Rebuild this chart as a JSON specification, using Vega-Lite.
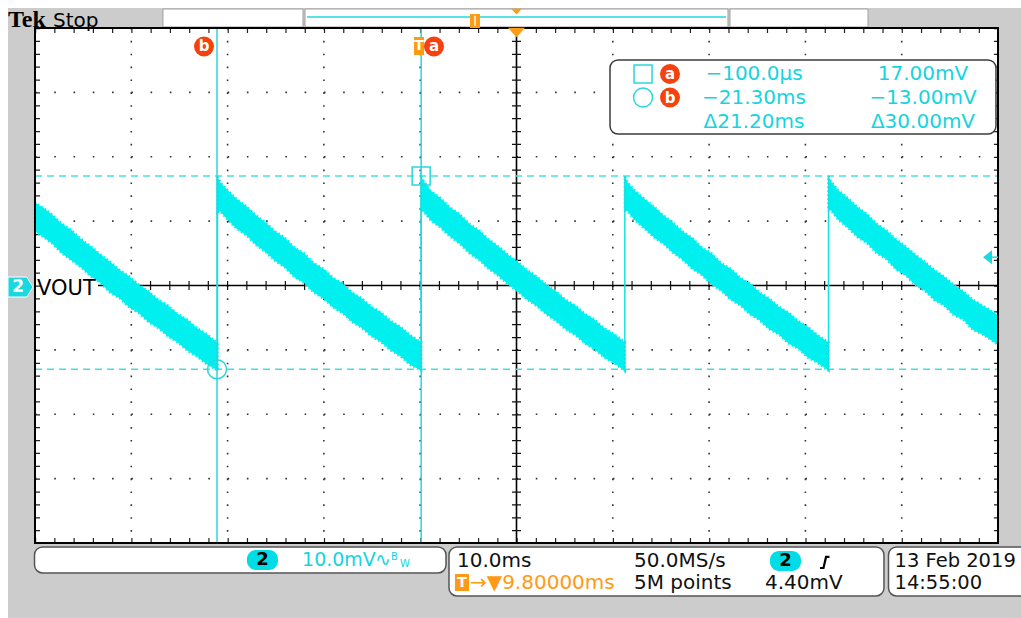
{
"$schema":"https://vega.github.io/schema/vega-lite/v6.json",
"width":1021,"height":618,
"autosize":{"type":"fit","contains":"padding"},
"padding":0,
"background":"#ffffff",
"config":{"view":{"stroke":null},"axis":{"disable":true},"text":{"font":"DejaVu Sans"}},
"datasets":{
"bg":[{"t":-43.004,"t2":62.188,"v":43.107,"v2":-51.6505}],
"topboxes":[{"t":-26.91,"t2":-12.37,"v":42.95,"v2":40.16},{"t":-12.16,"t2":31.76,"v":42.95,"v2":40.16},{"t":31.97,"t2":46.30,"v":42.95,"v2":40.16}],
"recline":[{"t":-11.96,"t2":31.55,"v":41.71}],
"plot":[{"t":-40.2,"t2":59.8,"v":40,"v2":-40}],
"vgrid":[{"t":-30.2,"v":40,"v2":-40},{"t":-20.2,"v":40,"v2":-40},{"t":-10.2,"v":40,"v2":-40},{"t":-0.2,"v":40,"v2":-40},{"t":19.8,"v":40,"v2":-40},{"t":29.8,"v":40,"v2":-40},{"t":39.8,"v":40,"v2":-40},{"t":49.8,"v":40,"v2":-40}],
"hgrid":[{"t":-40.2,"t2":59.8,"v":-30},{"t":-40.2,"t2":59.8,"v":-20},{"t":-40.2,"t2":59.8,"v":-10},{"t":-40.2,"t2":59.8,"v":10},{"t":-40.2,"t2":59.8,"v":20},{"t":-40.2,"t2":59.8,"v":30}],
"tbticks":[{"t":-40.2,"t2":59.8,"v":39.61},{"t":-40.2,"t2":59.8,"v":-39.61}],
"lrticks":[{"t":-39.94,"v":40,"v2":-40},{"t":59.64,"v":40,"v2":-40}],
"cv":[{"t":9.8,"v":40,"v2":-40}],
"ch":[{"t":-33.66,"t2":59.8,"v":0}],
"cursorH":[{"t":-40.2,"t2":59.8,"v":17},{"t":-40.2,"t2":59.8,"v":-13}],
"cursorV":[{"t":-21.3,"v":40,"v2":-40},{"t":-0.1,"v":40,"v2":-40}],
"wave":[
{"seg":1,"t":-40.2,"lo":8.4,"hi":12.9},{"seg":1,"t":-39.4,"lo":7.6,"hi":12.1},{"seg":1,"t":-38.4,"lo":6.5,"hi":11.0},{"seg":1,"t":-37.4,"lo":5.0,"hi":9.6},{"seg":1,"t":-36.4,"lo":3.9,"hi":8.6},{"seg":1,"t":-35.4,"lo":2.8,"hi":7.2},{"seg":1,"t":-34.4,"lo":1.4,"hi":6.1},{"seg":1,"t":-33.4,"lo":0.4,"hi":4.8},{"seg":1,"t":-32.4,"lo":-1.1,"hi":3.7},{"seg":1,"t":-31.4,"lo":-2.0,"hi":2.4},{"seg":1,"t":-30.4,"lo":-3.4,"hi":1.4},{"seg":1,"t":-29.4,"lo":-4.3,"hi":0.1},{"seg":1,"t":-28.4,"lo":-5.7,"hi":-0.9},{"seg":1,"t":-27.4,"lo":-6.6,"hi":-2.2},{"seg":1,"t":-26.4,"lo":-7.9,"hi":-3.1},{"seg":1,"t":-25.4,"lo":-8.8,"hi":-4.4},{"seg":1,"t":-24.4,"lo":-10.1,"hi":-5.3},{"seg":1,"t":-23.4,"lo":-11.0,"hi":-6.6},{"seg":1,"t":-22.4,"lo":-12.2,"hi":-7.5},{"seg":1,"t":-21.25,"lo":-13.2,"hi":-8.9},
{"seg":2,"t":-21.25,"lo":11.4,"hi":16.9},{"seg":2,"t":-20.95,"lo":11.5,"hi":16.0},{"seg":2,"t":-20.25,"lo":10.3,"hi":14.9},{"seg":2,"t":-19.25,"lo":8.8,"hi":13.4},{"seg":2,"t":-18.25,"lo":7.8,"hi":12.3},{"seg":2,"t":-17.25,"lo":6.3,"hi":10.9},{"seg":2,"t":-16.25,"lo":5.2,"hi":9.8},{"seg":2,"t":-15.25,"lo":3.8,"hi":8.4},{"seg":2,"t":-14.25,"lo":2.8,"hi":7.4},{"seg":2,"t":-13.25,"lo":1.3,"hi":5.9},{"seg":2,"t":-12.25,"lo":0.4,"hi":5.0},{"seg":2,"t":-11.25,"lo":-1.1,"hi":3.5},{"seg":2,"t":-10.25,"lo":-2.0,"hi":2.6},{"seg":2,"t":-9.25,"lo":-3.4,"hi":1.2},{"seg":2,"t":-8.25,"lo":-4.3,"hi":0.3},{"seg":2,"t":-7.25,"lo":-5.7,"hi":-1.1},{"seg":2,"t":-6.25,"lo":-6.6,"hi":-2.0},{"seg":2,"t":-5.25,"lo":-7.9,"hi":-3.3},{"seg":2,"t":-4.25,"lo":-8.8,"hi":-4.2},{"seg":2,"t":-3.25,"lo":-10.1,"hi":-5.5},{"seg":2,"t":-2.25,"lo":-11.0,"hi":-6.4},{"seg":2,"t":-1.25,"lo":-12.3,"hi":-7.7},{"seg":2,"t":-0.1,"lo":-13.2,"hi":-8.8},
{"seg":3,"t":-0.1,"lo":11.6,"hi":16.9},{"seg":3,"t":0.2,"lo":11.4,"hi":16.1},{"seg":3,"t":0.9,"lo":10.1,"hi":14.7},{"seg":3,"t":1.9,"lo":9.0,"hi":13.6},{"seg":3,"t":2.9,"lo":7.6,"hi":12.1},{"seg":3,"t":3.9,"lo":6.5,"hi":11.1},{"seg":3,"t":4.9,"lo":5.0,"hi":9.6},{"seg":3,"t":5.9,"lo":4.0,"hi":8.6},{"seg":3,"t":6.9,"lo":2.6,"hi":7.2},{"seg":3,"t":7.9,"lo":1.5,"hi":6.1},{"seg":3,"t":8.9,"lo":0.2,"hi":4.8},{"seg":3,"t":9.9,"lo":-0.9,"hi":3.7},{"seg":3,"t":10.9,"lo":-2.2,"hi":2.4},{"seg":3,"t":11.9,"lo":-3.2,"hi":1.4},{"seg":3,"t":12.9,"lo":-4.5,"hi":0.1},{"seg":3,"t":13.9,"lo":-5.5,"hi":-0.9},{"seg":3,"t":14.9,"lo":-6.8,"hi":-2.2},{"seg":3,"t":15.9,"lo":-7.7,"hi":-3.1},{"seg":3,"t":16.9,"lo":-9.0,"hi":-4.4},{"seg":3,"t":17.9,"lo":-9.9,"hi":-5.3},{"seg":3,"t":18.9,"lo":-11.2,"hi":-6.6},{"seg":3,"t":19.9,"lo":-12.0,"hi":-7.5},{"seg":3,"t":21.05,"lo":-13.3,"hi":-8.8},
{"seg":4,"t":21.05,"lo":11.7,"hi":17.0},{"seg":4,"t":21.35,"lo":11.5,"hi":16.0},{"seg":4,"t":22.05,"lo":10.2,"hi":14.8},{"seg":4,"t":23.05,"lo":8.9,"hi":13.5},{"seg":4,"t":24.05,"lo":7.5,"hi":12.3},{"seg":4,"t":25.05,"lo":6.5,"hi":10.9},{"seg":4,"t":26.05,"lo":5.1,"hi":9.8},{"seg":4,"t":27.05,"lo":4.0,"hi":8.4},{"seg":4,"t":28.05,"lo":2.6,"hi":7.4},{"seg":4,"t":29.05,"lo":1.6,"hi":5.9},{"seg":4,"t":30.05,"lo":0.2,"hi":5.0},{"seg":4,"t":31.05,"lo":-0.8,"hi":3.5},{"seg":4,"t":32.05,"lo":-2.2,"hi":2.6},{"seg":4,"t":33.05,"lo":-3.1,"hi":1.2},{"seg":4,"t":34.05,"lo":-4.5,"hi":0.3},{"seg":4,"t":35.05,"lo":-5.4,"hi":-1.1},{"seg":4,"t":36.05,"lo":-6.8,"hi":-2.0},{"seg":4,"t":37.05,"lo":-7.6,"hi":-3.3},{"seg":4,"t":38.05,"lo":-9.0,"hi":-4.2},{"seg":4,"t":39.05,"lo":-9.8,"hi":-5.5},{"seg":4,"t":40.05,"lo":-11.2,"hi":-6.4},{"seg":4,"t":41.05,"lo":-12.0,"hi":-7.7},{"seg":4,"t":42.2,"lo":-13.2,"hi":-8.8},
{"seg":5,"t":42.2,"lo":11.8,"hi":17.0},{"seg":5,"t":42.5,"lo":11.6,"hi":16.1},{"seg":5,"t":43.2,"lo":10.2,"hi":14.8},{"seg":5,"t":44.2,"lo":9.0,"hi":13.6},{"seg":5,"t":45.2,"lo":7.5,"hi":12.2},{"seg":5,"t":46.2,"lo":6.6,"hi":11.1},{"seg":5,"t":47.2,"lo":5.0,"hi":9.6},{"seg":5,"t":48.2,"lo":4.1,"hi":8.6},{"seg":5,"t":49.2,"lo":2.5,"hi":7.2},{"seg":5,"t":50.2,"lo":1.6,"hi":6.1},{"seg":5,"t":51.2,"lo":0.1,"hi":4.8},{"seg":5,"t":52.2,"lo":-0.8,"hi":3.7},{"seg":5,"t":53.2,"lo":-2.3,"hi":2.4},{"seg":5,"t":54.2,"lo":-3.1,"hi":1.4},{"seg":5,"t":55.2,"lo":-4.6,"hi":0.1},{"seg":5,"t":56.2,"lo":-5.3,"hi":-0.9},{"seg":5,"t":57.2,"lo":-6.9,"hi":-2.2},{"seg":5,"t":58.2,"lo":-7.6,"hi":-3.1},{"seg":5,"t":59.8,"lo":-9.2,"hi":-4.6}
],
"jumps":[{"t":-21.25,"v":-13.2,"v2":16.9},{"t":-0.1,"v":-13.2,"v2":16.9},{"t":21.05,"v":-13.3,"v2":17.0},{"t":42.2,"v":-13.2,"v2":17.0}],
"readbox":[{"t":19.51,"t2":59.59,"v":35.03,"v2":23.53}],
"trigtop":[{"t":9.8,"v":39.30}],
"trigbar":[{"t":9.8,"v":42.56}],
"sq":[{"t":-0.1,"v":17},{"t":22.94,"v":32.85}],
"ci":[{"t":-21.3,"v":-13},{"t":22.94,"v":29.2}],
"bottomboxes":[{"t":-40.25,"t2":2.48,"v":-40.62,"v2":-44.66},{"t":2.79,"t2":47.96,"v":-40.62,"v2":-48.23}],
"box3":[{"t":48.43,"t2":64.0,"v":-40.62,"v2":-48.23}],
"badges":[{"t":-18.19,"t2":-14.97,"v":-41.09,"v2":-44.19},{"t":36.12,"t2":39.34,"v":-41.24,"v2":-44.35}],
"badgetext":[{"t":-16.58,"v":-42.64,"label":"2"},{"t":37.73,"v":-42.8,"label":"2"}],
"orect":[{"t":4.97,"t2":6.01,"v":42.175,"v2":40.0},{"t":-0.844,"t2":0.194,"v":38.6,"v2":35.81},{"t":3.41,"t2":4.87,"v":-44.82,"v2":-47.46}],
"oline":[{"t":5.49,"v":41.9,"v2":40.3}],
"redc":[{"t":-22.65,"v":37.13,"label":"b"},{"t":1.23,"v":37.13,"label":"a"},{"t":25.74,"v":32.85,"label":"a"},{"t":25.74,"v":29.2,"label":"b"}],
"tlet":[{"t":-0.325,"v":37.2,"label":"T"},{"t":4.14,"v":-46.14,"label":"T"}],
"ch2":[{"t":-41.706,"v":-0.234}],
"ch2text":[{"t":-41.95,"v":-0.234,"label":"2"}],
"vout":[{"t":-39.99,"v":-1.5,"label":"VOUT"}],
"tek":[{"t":-43.0,"v":40.23,"label":"Tek"}],
"stop":[{"t":-38.33,"v":40.23,"label":"Stop"}],
"trlevel":[{"t":58.71,"v":4.4}],
"trline":[{"t":59.18,"t2":59.8,"v":4.4}],
"readtext":[{"t":34.46,"v":32.85,"label":"−100.0µs"},{"t":34.46,"v":29.13,"label":"−21.30ms"},{"t":34.46,"v":25.4,"label":"Δ21.20ms"},{"t":52.01,"v":32.85,"label":"17.00mV"},{"t":52.01,"v":29.13,"label":"−13.00mV"},{"t":52.01,"v":25.4,"label":"Δ30.00mV"}],
"cyantext":[{"t":-12.47,"v":-42.64,"label":"10.0mV"},{"t":-4.895,"v":-42.64,"label":"∿"}],
"bwtext":[{"t":-3.233,"v":-42.18,"label":"B"},{"t":-2.30,"v":-43.26,"label":"W"}],
"blacktext":[{"t":3.62,"v":-42.8,"label":"10.0ms"},{"t":22.0,"v":-42.8,"label":"50.0MS/s"},{"t":22.0,"v":-46.22,"label":"5M points"},{"t":35.6,"v":-46.22,"label":"4.40mV"}],
"datetext":[{"t":49.05,"v":-42.8,"label":"13 Feb 2019"},{"t":49.05,"v":-46.22,"label":"14:55:00"}],
"orangetext":[{"t":4.97,"v":-46.22,"label":"→▼9.80000ms"}],
"slope":[{"t":41.32,"v":-43.88},{"t":41.68,"v":-43.88},{"t":41.94,"v":-42.17},{"t":42.30,"v":-42.17}]
},
"encoding":{
"x":{"field":"t","type":"quantitative","scale":{"domain":[-43.8345,62.188],"nice":false,"zero":false},"axis":null},
"y":{"field":"v","type":"quantitative","scale":{"domain":[-51.6505,44.3495],"nice":false,"zero":false},"axis":null}
},
"layer":[
{"data":{"name":"bg"},"mark":{"type":"rect","fill":"#cccccc"},"encoding":{"x2":{"field":"t2"},"y2":{"field":"v2"}}},
{"data":{"name":"topboxes"},"mark":{"type":"rect","fill":"#ffffff","stroke":"#a0a0a0","strokeWidth":1},"encoding":{"x2":{"field":"t2"},"y2":{"field":"v2"}}},
{"data":{"name":"recline"},"mark":{"type":"rule","color":"#1fd8e0","strokeWidth":1.5},"encoding":{"x2":{"field":"t2"}}},
{"data":{"name":"plot"},"mark":{"type":"rect","fill":"#ffffff"},"encoding":{"x2":{"field":"t2"},"y2":{"field":"v2"}}},
{"data":{"name":"vgrid"},"mark":{"type":"rule","color":"#333333","strokeWidth":1.6,"strokeDash":[1.6,11.275]},"encoding":{"y2":{"field":"v2"}}},
{"data":{"name":"hgrid"},"mark":{"type":"rule","color":"#333333","strokeWidth":1.6,"strokeDash":[1.6,17.66]},"encoding":{"x2":{"field":"t2"}}},
{"data":{"name":"tbticks"},"mark":{"type":"rule","color":"#222222","strokeWidth":5,"strokeDash":[1.2,18.06]},"encoding":{"x2":{"field":"t2"}}},
{"data":{"name":"lrticks"},"mark":{"type":"rule","color":"#222222","strokeWidth":5,"strokeDash":[1.2,11.675]},"encoding":{"y2":{"field":"v2"}}},
{"data":{"name":"cv"},"mark":{"type":"rule","color":"#000000","strokeWidth":1.6},"encoding":{"y2":{"field":"v2"}}},
{"data":{"name":"cv"},"mark":{"type":"rule","color":"#111111","strokeWidth":9,"strokeDash":[1.2,11.675]},"encoding":{"y2":{"field":"v2"}}},
{"data":{"name":"ch"},"mark":{"type":"rule","color":"#000000","strokeWidth":1.6},"encoding":{"x2":{"field":"t2"}}},
{"data":{"name":"ch"},"mark":{"type":"rule","color":"#111111","strokeWidth":9,"strokeDash":[1.2,18.06],"strokeDashOffset":5.82},"encoding":{"x2":{"field":"t2"}}},
{"data":{"name":"cursorH"},"mark":{"type":"rule","color":"#45dfe3","strokeWidth":1.5,"strokeDash":[7,5]},"encoding":{"x2":{"field":"t2"}}},
{"data":{"name":"wave"},"mark":{"type":"area","color":"#00f0f0","opacity":1,"stroke":"#00f0f0","strokeWidth":2.5,"strokeDash":[1.5,2.5]},"encoding":{"y":{"field":"lo","type":"quantitative","axis":null},"y2":{"field":"hi"},"detail":{"field":"seg","type":"nominal"}}},
{"data":{"name":"jumps"},"mark":{"type":"rule","color":"#10e2e2","strokeWidth":1.5},"encoding":{"y2":{"field":"v2"}}},
{"data":{"name":"cursorV"},"mark":{"type":"rule","color":"#2ad6dc","strokeWidth":1.5},"encoding":{"y2":{"field":"v2"}}},
{"data":{"name":"plot"},"mark":{"type":"rect","fill":"#ffffff","fillOpacity":0,"stroke":"#000000","strokeWidth":2},"encoding":{"x2":{"field":"t2"},"y2":{"field":"v2"}}},
{"data":{"name":"trigtop"},"mark":{"type":"point","shape":"M-1,-0.55L1,-0.55L0,0.55Z","size":289,"filled":true,"fill":"#ff9a14","opacity":1,"strokeWidth":0}},
{"data":{"name":"trigbar"},"mark":{"type":"point","shape":"M-1,-0.55L1,-0.55L0,0.55Z","size":110,"filled":true,"fill":"#ff9a14","opacity":1,"strokeWidth":0}},
{"data":{"name":"readbox"},"mark":{"type":"rect","fill":"#ffffff","stroke":"#3c3c3c","strokeWidth":1.5,"cornerRadius":8},"encoding":{"x2":{"field":"t2"},"y2":{"field":"v2"}}},
{"data":{"name":"sq"},"mark":{"type":"point","shape":"square","size":324,"filled":false,"stroke":"#2ad6dc","strokeWidth":1.5,"opacity":1}},
{"data":{"name":"ci"},"mark":{"type":"point","shape":"circle","size":361,"filled":false,"stroke":"#2ad6dc","strokeWidth":1.5,"opacity":1}},
{"data":{"name":"readtext"},"mark":{"type":"text","fontSize":20,"color":"#14d4e0","align":"center","baseline":"middle"},"encoding":{"text":{"field":"label"}}},
{"data":{"name":"trlevel"},"mark":{"type":"point","shape":"M-0.64,0L0.64,-1L0.64,1Z","size":196,"filled":true,"fill":"#19d9e0","opacity":1,"strokeWidth":0}},
{"data":{"name":"trline"},"mark":{"type":"rule","color":"#19d9e0","strokeWidth":1.5},"encoding":{"x2":{"field":"t2"}}},
{"data":{"name":"ch2"},"mark":{"type":"point","shape":"M-1,-0.8L0.5,-0.8L1,0L0.5,0.8L-1,0.8Z","size":625,"filled":true,"fill":"#19d9e0","stroke":"#ffffff","strokeWidth":1,"opacity":1}},
{"data":{"name":"ch2text"},"mark":{"type":"text","fontSize":17,"fontWeight":"bold","color":"#ffffff","align":"center","baseline":"middle"},"encoding":{"text":{"field":"label"}}},
{"data":{"name":"vout"},"mark":{"type":"text","fontSize":21,"color":"#000000","align":"left","baseline":"alphabetic"},"encoding":{"text":{"field":"label"}}},
{"data":{"name":"tek"},"mark":{"type":"text","font":"Liberation Serif","fontSize":24,"fontWeight":"bold","color":"#000000","align":"left","baseline":"alphabetic"},"encoding":{"text":{"field":"label"}}},
{"data":{"name":"stop"},"mark":{"type":"text","fontSize":20,"color":"#000000","align":"left","baseline":"alphabetic"},"encoding":{"text":{"field":"label"}}},
{"data":{"name":"bottomboxes"},"mark":{"type":"rect","fill":"#ffffff","stroke":"#555555","strokeWidth":1.5,"cornerRadius":8},"encoding":{"x2":{"field":"t2"},"y2":{"field":"v2"}}},
{"data":{"name":"box3"},"mark":{"type":"rect","fill":"#ffffff","stroke":"#555555","strokeWidth":1.5,"cornerRadius":8,"clip":true},"encoding":{"x2":{"field":"t2"},"y2":{"field":"v2"}}},
{"data":{"name":"badges"},"mark":{"type":"rect","fill":"#00dde6","cornerRadius":9},"encoding":{"x2":{"field":"t2"},"y2":{"field":"v2"}}},
{"data":{"name":"badgetext"},"mark":{"type":"text","fontSize":18,"fontWeight":"bold","color":"#000000","align":"center","baseline":"middle"},"encoding":{"text":{"field":"label"}}},
{"data":{"name":"cyantext"},"mark":{"type":"text","fontSize":19,"color":"#14d4e0","align":"left","baseline":"middle"},"encoding":{"text":{"field":"label"}}},
{"data":{"name":"bwtext"},"mark":{"type":"text","fontSize":10,"color":"#14d4e0","align":"left","baseline":"middle"},"encoding":{"text":{"field":"label"}}},
{"data":{"name":"blacktext"},"mark":{"type":"text","fontSize":20,"color":"#111111","align":"left","baseline":"middle"},"encoding":{"text":{"field":"label"}}},
{"data":{"name":"datetext"},"mark":{"type":"text","fontSize":19.5,"color":"#111111","align":"left","baseline":"middle","clip":true},"encoding":{"text":{"field":"label"}}},
{"data":{"name":"orangetext"},"mark":{"type":"text","fontSize":20,"color":"#ff9a14","align":"left","baseline":"middle"},"encoding":{"text":{"field":"label"}}},
{"data":{"name":"slope"},"mark":{"type":"line","color":"#000000","strokeWidth":2.2},"encoding":{}},
{"data":{"name":"orect"},"mark":{"type":"rect","fill":"#ff9a14"},"encoding":{"x2":{"field":"t2"},"y2":{"field":"v2"}}},
{"data":{"name":"oline"},"mark":{"type":"rule","color":"#ffe2b8","strokeWidth":2},"encoding":{"y2":{"field":"v2"}}},
{"data":{"name":"redc"},"mark":{"type":"point","shape":"circle","size":400,"filled":true,"fill":"#f5400f","opacity":1,"strokeWidth":0}},
{"data":{"name":"redc"},"mark":{"type":"text","fontSize":15,"fontWeight":"bold","color":"#ffffff","align":"center","baseline":"middle"},"encoding":{"text":{"field":"label"}}},
{"data":{"name":"tlet"},"mark":{"type":"text","fontSize":14,"fontWeight":"bold","color":"#ffffff","align":"center","baseline":"middle"},"encoding":{"text":{"field":"label"}}}
]
}
